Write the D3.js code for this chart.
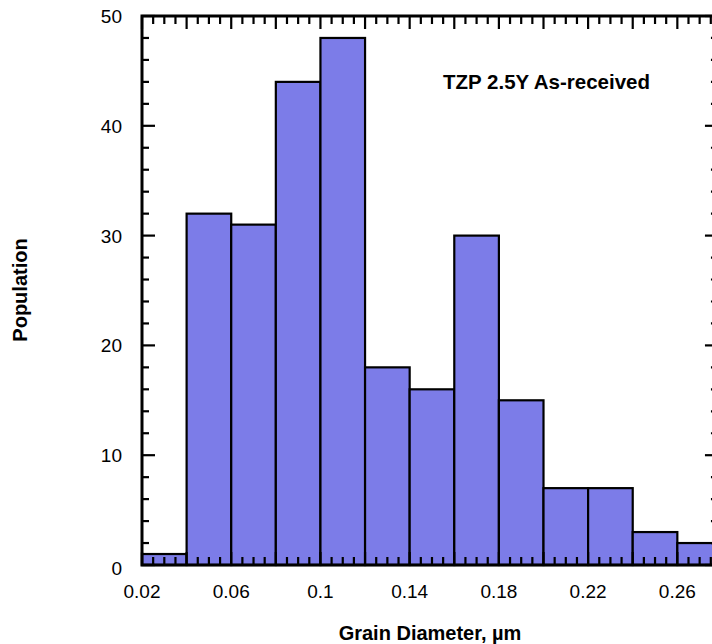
<!DOCTYPE html>
<html>
<head>
<meta charset="utf-8">
<script src="https://cdn.jsdelivr.net/npm/d3@7"></script>
<style>
  body { margin: 0; background: #fff; }
  svg { display: block; font-family: Arial, "Liberation Sans", sans-serif; }
</style>
</head>
<body>
<div id="chart"></div>
<script>
// bin edges (lower bound) and counts
var binStart = [0.02, 0.04, 0.06, 0.08, 0.10, 0.12, 0.14, 0.16, 0.18, 0.20, 0.22, 0.24, 0.26];
var binWidth = 0.02;
var counts   = [1, 32, 31, 44, 48, 18, 16, 30, 15, 7, 7, 3, 2];
var xLabelTicks = [0.02, 0.06, 0.10, 0.14, 0.18, 0.22, 0.26];
var yLabelTicks = [0, 10, 20, 30, 40, 50];

var W = 712, H = 644;
var margin = {top: 16, left: 142, bottom: 79};
var x0 = 0.02, x1 = 0.28;

var x = d3.scaleLinear().domain([x0, x1]).range([margin.left, 141.5 + 13 * 44.65]);
var y = d3.scaleLinear().domain([0, 50]).range([H - margin.bottom, margin.top]);

var svg = d3.select("#chart").append("svg")
  .attr("width", W).attr("height", H);

var data = binStart.map(function(s, i){ return {x0: s, x1: s + binWidth, n: counts[i]}; });

// bars
svg.append("g").selectAll("rect")
  .data(data).enter().append("rect")
  .attr("x", function(d){ return x(d.x0); })
  .attr("y", function(d){ return y(d.n); })
  .attr("width", function(d){ return x(d.x1) - x(d.x0); })
  .attr("height", function(d){ return y(0) - y(d.n); })
  .style("fill", "#7c7ce8")
  .style("stroke", "#000")
  .style("stroke-width", 2.2);

// ticks, all pointing inward
var ticks = svg.append("g").style("stroke", "#000").style("stroke-width", 2.2);
var xMinor = d3.range(0, 53).map(function(i){ return x0 + i * 0.005; });
xMinor.forEach(function(v){
  var major = Math.abs(Math.round(v / 0.02) * 0.02 - v) < 1e-9;
  var len = major ? 13 : 8;
  ticks.append("line").attr("x1", x(v)).attr("x2", x(v))
    .attr("y1", y(0)).attr("y2", y(0) - len);
  ticks.append("line").attr("x1", x(v)).attr("x2", x(v))
    .attr("y1", y(50)).attr("y2", y(50) + len);
});
d3.range(0, 51, 2).forEach(function(v){
  var len = (v % 10 === 0) ? 13 : 7;
  ticks.append("line").attr("x1", x(x0)).attr("x2", x(x0) + len)
    .attr("y1", y(v)).attr("y2", y(v));
  ticks.append("line").attr("x1", x(x1)).attr("x2", x(x1) - len - 4)
    .attr("y1", y(v)).attr("y2", y(v));
});

// frame
svg.append("rect")
  .attr("x", x(x0)).attr("y", y(50))
  .attr("width", x(x1) - x(x0)).attr("height", y(0) - y(50))
  .style("fill", "none").style("stroke", "#000").style("stroke-width", 3);

// tick labels
svg.append("g").selectAll("text")
  .data(xLabelTicks).enter().append("text")
  .attr("x", function(d){ return x(d); })
  .attr("y", 598)
  .attr("text-anchor", "middle")
  .style("font-size", "19px")
  .text(function(d){ return d3.format("")(+d.toFixed(2)); });

svg.append("g").selectAll("text")
  .data(yLabelTicks).enter().append("text")
  .attr("x", 122)
  .attr("y", function(d){ return y(d) + 7 + (d === 0 ? 3 : 0); })
  .attr("text-anchor", "end")
  .style("font-size", "19px")
  .text(function(d){ return d; });

// titles
svg.append("text")
  .attr("x", 430).attr("y", 640)
  .attr("text-anchor", "middle")
  .style("font-size", "20px").style("font-weight", "bold")
  .text("Grain Diameter, \u00b5m");

svg.append("text")
  .attr("transform", "translate(27,290) rotate(-90)")
  .attr("text-anchor", "middle")
  .style("font-size", "20px").style("font-weight", "bold")
  .text("Population");

svg.append("text")
  .attr("x", 443).attr("y", 89)
  .style("font-size", "20.5px").style("font-weight", "bold")
  .text("TZP 2.5Y As-received");
</script>
</body>
</html>
